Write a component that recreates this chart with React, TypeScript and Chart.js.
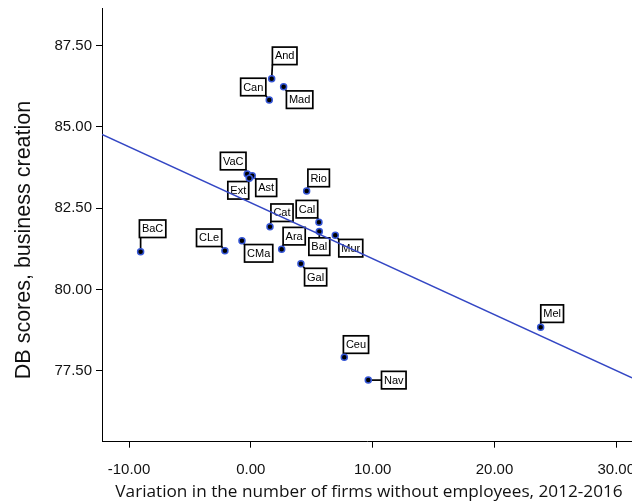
import React, { useEffect, useRef } from 'react';
import { Chart, registerables } from 'chart.js';

Chart.register(...registerables);

const WIDTH = 632;
const HEIGHT = 501;

// Spanish regions (abbreviated)
const regions = ['And', 'Mad', 'Can', 'VaC', 'Ast', 'Ext', 'Rio', 'Cat', 'Cal', 'Bal', 'Mur', 'Ara', 'Gal', 'CMa', 'CLe', 'BaC', 'Ceu', 'Nav', 'Mel'];
// Variation in the number of firms without employees, 2012-2016
const firmVariation = [1.71, 2.69, 1.51, -0.3, 0.11, -0.13, 4.58, 1.57, 5.59, 5.62, 6.93, 2.53, 4.11, -0.73, -2.13, -9.05, 7.67, 9.64, 23.79];
// Doing Business scores, business creation
const dbScores = [86.48, 86.24, 85.83, 83.55, 83.5, 83.42, 83.03, 81.93, 82.07, 81.78, 81.67, 81.24, 80.79, 81.5, 81.19, 81.16, 77.91, 77.21, 78.84];

const xTicks = [-10, 0, 10, 20, 30];
const yTicks = [77.5, 80, 82.5, 85, 87.5];

const xTitle = 'Variation in the number of firms without employees, 2012-2016';
const yTitle = 'DB scores, business creation';

// where each region's tag sits relative to its marker (px)
const labelOffsets: Record<string, [number, number]> = {
  And: [13, -23], Mad: [16, 13], Can: [-16, -13], VaC: [-14, -13], Ast: [14, 12], Ext: [-11, 12],
  Rio: [12, -13], Cat: [12, -14], Cal: [-12, -13], Bal: [0, 15], Mur: [15.5, 13], Ara: [12.5, -13],
  Gal: [14.7, 13.3], CMa: [16.7, 12.6], CLe: [-15.8, -13], BaC: [12, -23], Ceu: [11.7, -12.8],
  Nav: [25.5, 0], Mel: [11.5, -13.5],
};

const X_MIN = -12.22;
const X_MAX = 31.29;
const Y_MIN = 75.315;
const Y_MAX = 88.66;

function leastSquares(xs: number[], ys: number[]) {
  const n = xs.length;
  const mx = xs.reduce((a, b) => a + b, 0) / n;
  const my = ys.reduce((a, b) => a + b, 0) / n;
  let sxy = 0;
  let sxx = 0;
  for (let i = 0; i < n; i++) {
    sxy += (xs[i] - mx) * (ys[i] - my);
    sxx += (xs[i] - mx) ** 2;
  }
  const slope = sxy / sxx;
  return { slope, intercept: my - slope * mx };
}

const tagPlugin = {
  id: 'regionTags',
  beforeDatasetsDraw(chart: any) {
    const meta = chart.getDatasetMeta(1);
    const ctx: CanvasRenderingContext2D = chart.ctx;
    ctx.save();
    ctx.font = '11px "Liberation Sans", Arial, sans-serif';
    ctx.textAlign = 'center';
    ctx.textBaseline = 'middle';
    meta.data.forEach((el: any, i: number) => {
      const name = regions[i];
      const [dx, dy] = labelOffsets[name];
      const cx = el.x + dx;
      const cy = el.y + dy;
      const bw = ctx.measureText(name).width + 5;
      const bh = 17.5;
      const left = cx - bw / 2;
      const top = cy - bh / 2;
      const nx = Math.min(Math.max(el.x, left), left + bw);
      const ny = Math.min(Math.max(el.y, top), top + bh);
      ctx.strokeStyle = '#000';
      ctx.lineWidth = 1.7;
      ctx.beginPath();
      ctx.moveTo(el.x, el.y);
      ctx.lineTo(nx, ny);
      ctx.stroke();
      ctx.fillStyle = '#fff';
      ctx.fillRect(left, top, bw, bh);
      ctx.strokeRect(left, top, bw, bh);
      ctx.fillStyle = '#000';
      ctx.fillText(name, cx, cy + 0.5);
    });
    ctx.restore();
  },
};

const axisTitlePlugin = {
  id: 'axisTitles',
  afterDraw(chart: any) {
    const ctx: CanvasRenderingContext2D = chart.ctx;
    ctx.save();
    ctx.fillStyle = '#111';
    ctx.textAlign = 'center';
    ctx.textBaseline = 'alphabetic';
    ctx.font = '17.2px "Open Sans", sans-serif';
    ctx.fillText(xTitle, 369, 497);
    ctx.textBaseline = 'middle';
    ctx.translate(24.5, 240);
    ctx.rotate(-Math.PI / 2);
    ctx.font = '21.5px "Liberation Sans", Arial, sans-serif';
    ctx.fillText(yTitle, 0, 0);
    ctx.restore();
  },
};

export default function App() {
  const canvasRef = useRef<HTMLCanvasElement | null>(null);

  useEffect(() => {
    const canvas = canvasRef.current;
    if (!canvas) return;
    const fit = leastSquares(firmVariation, dbScores);
    const fitLine = [X_MIN, X_MAX].map((x) => ({ x, y: fit.intercept + fit.slope * x }));
    const points = firmVariation.map((x, i) => ({ x, y: dbScores[i] }));

    const tickFont = { family: '"Liberation Sans", Arial, sans-serif', size: 15 };

    const chart = new Chart(canvas, {
      type: 'scatter',
      data: {
        datasets: [
          {
            type: 'line',
            data: fitLine,
            borderColor: '#3447c4',
            borderWidth: 1.4,
            pointRadius: 0,
            fill: false,
          },
          {
            data: points,
            pointRadius: 3,
            pointHoverRadius: 3,
            backgroundColor: '#000',
            borderColor: '#3556d6',
            borderWidth: 1.5,
          },
        ],
      },
      options: {
        animation: false,
        responsive: false,
        devicePixelRatio: 1,
        layout: { autoPadding: false, padding: { top: 8, left: 0, right: 0, bottom: 0 } },
        plugins: { legend: { display: false }, tooltip: { enabled: false } },
        scales: {
          x: {
            type: 'linear',
            min: X_MIN,
            max: X_MAX,
            afterBuildTicks: (s: any) => {
              s.ticks = xTicks.map((value) => ({ value }));
            },
            afterFit: (s: any) => {
              s.height = HEIGHT - 441.7;
              s.paddingLeft = 0;
              s.paddingRight = 0;
            },
            border: { display: true, color: '#000', width: 1 },
            grid: { drawOnChartArea: false, drawTicks: true, tickLength: 6, color: '#000', lineWidth: 1 },
            ticks: {
              font: tickFont,
              color: '#111',
              padding: 13,
              maxRotation: 0,
              autoSkip: false,
              callback: (v: any) => Number(v).toFixed(2),
            },
          },
          y: {
            type: 'linear',
            min: Y_MIN,
            max: Y_MAX,
            afterBuildTicks: (s: any) => {
              s.ticks = yTicks.map((value) => ({ value }));
            },
            afterFit: (s: any) => {
              s.width = 102;
              s.paddingTop = 0;
              s.paddingBottom = 0;
            },
            border: { display: true, color: '#000', width: 1 },
            grid: { drawOnChartArea: false, drawTicks: true, tickLength: 6, color: '#000', lineWidth: 1 },
            ticks: {
              font: tickFont,
              color: '#111',
              padding: 4,
              autoSkip: false,
              callback: (v: any) => Number(v).toFixed(2),
            },
          },
        },
      },
      plugins: [tagPlugin, axisTitlePlugin],
    });

    return () => chart.destroy();
  }, []);

  return (
    <div style={{ position: 'fixed', left: 0, top: 0, width: WIDTH, height: HEIGHT, overflow: 'hidden', background: '#fff' }}>
      <canvas ref={canvasRef} width={WIDTH} height={HEIGHT} style={{ display: 'block', width: WIDTH, height: HEIGHT }} />
    </div>
  );
}
